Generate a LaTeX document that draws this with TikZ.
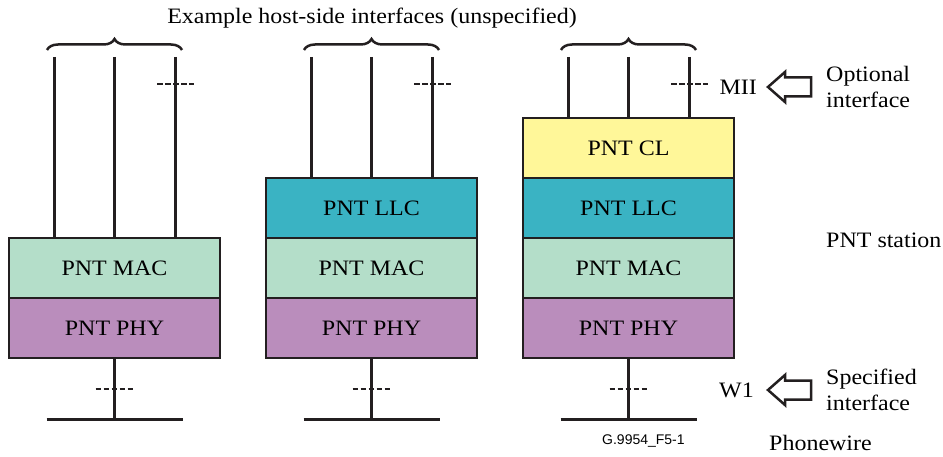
\documentclass[tikz,border=0pt]{standalone}
\usepackage{fontspec}
\setmainfont{Liberation Serif}[FakeStretch=1.09]
\setsansfont{Liberation Sans}
\usetikzlibrary{positioning,decorations.pathreplacing}
\definecolor{PhyPurple}{HTML}{BA8DBC}
\definecolor{MacGreen}{HTML}{B4DEC9}
\definecolor{LlcTeal}{HTML}{3AB3C3}
\definecolor{ClYellow}{HTML}{FFF799}
\definecolor{LineInk}{HTML}{231F20}

\begin{document}
\begin{tikzpicture}[x=1pt, y=-1pt, node distance=0pt,
  layer/.style={draw=LineInk, line width=2.2pt, minimum width=211pt,
    minimum height=60pt, inner sep=0pt, outer sep=0pt,
    font=\fontsize{22}{26}\selectfont},
  wire/.style={LineInk, line width=3pt},
  gap/.style={LineInk, line width=2pt, dash pattern=on 5.5pt off 2.5pt},
  hbrace/.style={LineInk, line width=2.5pt, decorate,
    decoration={brace, amplitude=11pt}},
  hollow/.style={LineInk, line width=2.5pt, fill=white, line join=miter},
  txt/.style={font=\fontsize{22}{26}\selectfont, inner sep=0pt, align=left}]
  \useasboundingbox (0,0) rectangle (943,457);

  % station 1: MAC over PHY
  \node[layer, fill=PhyPurple] (phy1) at (114.5,328) {PNT PHY};
  \node[layer, fill=MacGreen, above=of phy1] (mac1) {PNT MAC};
  % station 2: LLC added
  \node[layer, fill=PhyPurple] (phy2) at (371.5,328) {PNT PHY};
  \node[layer, fill=MacGreen, above=of phy2] (mac2) {PNT MAC};
  \node[layer, fill=LlcTeal, above=of mac2] (llc2) {PNT LLC};
  % station 3: convergence layer on top
  \node[layer, fill=PhyPurple] (phy3) at (628.5,328) {PNT PHY};
  \node[layer, fill=MacGreen, above=of phy3] (mac3) {PNT MAC};
  \node[layer, fill=LlcTeal, above=of mac3] (llc3) {PNT LLC};
  \node[layer, fill=ClYellow, above=of llc3] (cl3) {PNT CL};

  \foreach \n/\top/\cx in {1/mac1/114.5, 2/llc2/371.5, 3/cl3/628.5} {
    % host-side interface lines
    \foreach \dx/\k in {-60/a, 0/b, 61/c}
      \draw[wire] (\cx+\dx,57) coordinate (h\n\k) -- (h\n\k |- \top.north);
    \draw[hbrace] (\cx-67.5,50) -- (\cx+67.5,50);
    \draw[gap] ([xshift=-18.5pt]h\n c |- 0,84) -- ([xshift=18.5pt]h\n c |- 0,84);
    % wire side
    \draw[wire] (phy\n.south) -- (\cx,419) coordinate (w\n);
    \draw[gap] (\cx-19,389) -- (\cx+19,389);
    \draw[wire] ([xshift=-68pt]w\n) -- ([xshift=68pt]w\n);
  }

  \node[txt] (hosts) at (372,18) {Example host-side interfaces (unspecified)};

  % interface markers
  \coordinate (miitip) at (768,87);
  \node[txt, left=11pt of miitip] (mii) {MII};
  \node[txt, right=58pt of miitip] (optional) {Optional\\interface};
  \draw[hollow] (miitip) -- ++(17,-15) -- ++(0,5.5) -- ++(26,0) -- ++(0,19)
    -- ++(-26,0) -- ++(0,5.5) -- cycle;

  \coordinate (w1tip) at (768,390);
  \node[txt, left=14pt of w1tip] (wone) {W1};
  \node[txt, right=58pt of w1tip] (specified) {Specified\\interface};
  \draw[hollow] (w1tip) -- ++(17,-15) -- ++(0,5.5) -- ++(26,0) -- ++(0,19)
    -- ++(-26,0) -- ++(0,5.5) -- cycle;

  \node[txt, anchor=west] (station) at (826,240) {PNT station};
  \node[txt, anchor=west] (phonewire) at (769,443) {Phonewire};
  \node[font=\sffamily\fontsize{14}{16}\selectfont, inner sep=0pt, anchor=west]
    (figref) at (602,441) {G.9954\_F5-1};
\end{tikzpicture}
\end{document}
